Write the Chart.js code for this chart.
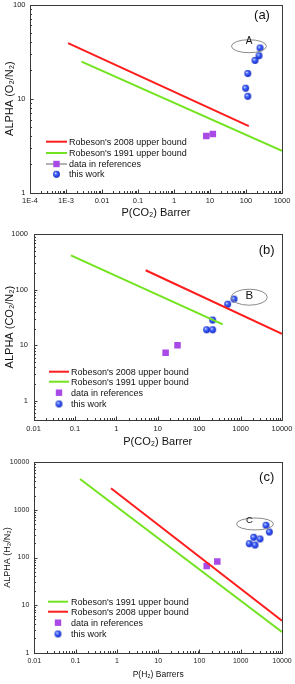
<!DOCTYPE html>
<html><head><meta charset="utf-8">
<script src="https://cdn.jsdelivr.net/npm/chart.js@4.4.1/dist/chart.umd.min.js"></script>
<style>
html,body{margin:0;padding:0;background:#fff;}
#wrap{position:relative;width:295px;height:684px;overflow:hidden;background:#fff;}
canvas{position:absolute;left:0;}
</style></head><body>
<div id="wrap">
<canvas id="ca" width="295" height="228" style="top:0;width:295px;height:228px"></canvas>
<canvas id="cb" width="295" height="227" style="top:228px;width:295px;height:227px"></canvas>
<canvas id="cc" width="295" height="229" style="top:455px;width:295px;height:229px"></canvas>
</div>
<script>
// ---------- Panel (a): O2/N2 ----------
const aXTicks = [1e-4, 1e-3, 0.01, 0.1, 1, 10, 100, 1000];
const aXLabels = ['1E-4', '1E-3', '0.01', '0.1', '1', '10', '100', '1000'];
const aYTicks = [1, 10, 100];
const aYLabels = ['1', '10', '100'];
const aRob2008X = [1.14e-3, 120];
const aRob2008Y = [39, 5.1];
const aRob1991X = [2.7e-3, 1000];
const aRob1991Y = [24.8, 2.79];
const aRefX = [7.9, 12];
const aRefY = [4.0, 4.2];
const aWorkX = [245, 230, 178, 112, 98, 112];
const aWorkY = [34.6, 28.6, 25.5, 18.5, 12.9, 10.6];

// ---------- Panel (b): CO2/N2 ----------
const bXTicks = [0.01, 0.1, 1, 10, 100, 1000, 10000];
const bXLabels = ['0.01', '0.1', '1', '10', '100', '1000', '10000'];
const bYTicks = [1, 10, 100, 1000];
const bYLabels = ['1', '10', '100', '1000'];
const bRob2008X = [5.1, 10000];
const bRob2008Y = [225, 16];
const bRob1991X = [0.08, 370];
const bRob1991Y = [418, 23.8];
const bRefX = [15.5, 30];
const bRefY = [7.3, 10];
const bWorkX = [151, 212, 212, 488, 695];
const bWorkY = [19, 19, 28.5, 55, 68];

// ---------- Panel (c): H2/N2 ----------
const cXTicks = [0.01, 0.1, 1, 10, 100, 1000, 10000];
const cXLabels = ['0.01', '0.1', '1', '10', '100', '1000', '10000'];
const cYTicks = [1, 10, 100, 1000, 10000];
const cYLabels = ['1', '10', '100', '1000', '10000'];
const cRob1991X = [0.128, 10000];
const cRob1991Y = [4460, 2.72];
const cRob2008X = [0.72, 10000];
const cRob2008Y = [2840, 4.7];
const cRefX = [150, 271];
const cRefY = [66, 82];
const cWorkX = [4100, 4930, 2065, 2935, 1615, 2220];
const cWorkY = [475, 343, 266, 245, 195, 183];

const FONT = "'Liberation Sans', Arial, Helvetica, sans-serif";
const RED = '#ff1c1c', GREEN = '#72e31e', PURPLE = '#a94ae6', AXIS = '#3a3a3a';

function pts(xs, ys) { return xs.map((x, i) => ({x: x, y: ys[i]})); }

function sphere(r) {
  const c = document.createElement('canvas');
  const s = Math.ceil(r * 2) + 2;
  c.width = s; c.height = s;
  const g = c.getContext('2d');
  const cx = s / 2, cy = s / 2;
  const grad = g.createRadialGradient(cx - r * 0.35, cy - r * 0.4, r * 0.05, cx, cy, r);
  grad.addColorStop(0, '#ffffff');
  grad.addColorStop(0.3, '#5a7cff');
  grad.addColorStop(0.75, '#1f3de6');
  grad.addColorStop(1, '#1226b0');
  g.fillStyle = grad;
  g.beginPath(); g.arc(cx, cy, r, 0, Math.PI * 2); g.fill();
  return c;
}
const SPH = sphere(3.4);

function lineDs(label, xs, ys, color) {
  return {type: 'line', label: label, data: pts(xs, ys), borderColor: color, backgroundColor: color,
    borderWidth: 2, pointRadius: 0, showLine: true, fill: false, tension: 0, legendKind: 'line'};
}
function refDs(label, xs, ys, withLine) {
  return {type: 'scatter', label: label, data: pts(xs, ys), pointStyle: 'rect', pointRadius: 4.6,
    pointBackgroundColor: PURPLE, pointBorderColor: PURPLE, pointBorderWidth: 0,
    borderColor: '#9a9a9a', borderWidth: 1.5, showLine: !!withLine,
    legendKind: withLine ? 'lineSquare' : 'square'};
}
function workDs(label, xs, ys) {
  return {type: 'scatter', label: label, data: pts(xs, ys), pointStyle: SPH, pointRadius: 3.4,
    borderWidth: 0, legendKind: 'sphere'};
}

const deco = {
  id: 'deco',
  afterDatasetsDraw(chart, args, o) {
    const ctx = chart.ctx;
    const ca = chart.chartArea;
    const xs = chart.scales.x, ys = chart.scales.y;
    ctx.save();
    // box
    ctx.strokeStyle = AXIS; ctx.lineWidth = 1;
    ctx.strokeRect(Math.round(ca.left) + 0.5, Math.round(ca.top) + 0.5,
      Math.round(ca.right) - Math.round(ca.left), Math.round(ca.bottom) - Math.round(ca.top));
    // inward log ticks
    function logTicks(scale, horiz) {
      const lo = Math.floor(Math.log10(scale.min)), hi = Math.ceil(Math.log10(scale.max));
      ctx.beginPath();
      for (let d = lo; d <= hi; d++) {
        for (let m = 1; m <= 9; m++) {
          const v = m * Math.pow(10, d);
          if (v < scale.min * 0.999 || v > scale.max * 1.001) continue;
          const p = Math.round(scale.getPixelForValue(v)) + 0.5;
          const len = m === 1 ? 3.5 : 2;
          if (horiz) { const b = Math.round(ca.bottom); ctx.moveTo(p, b); ctx.lineTo(p, b - len); }
          else { const l = Math.round(ca.left); ctx.moveTo(l, p); ctx.lineTo(l + len, p); }
        }
      }
      ctx.stroke();
    }
    logTicks(xs, true); logTicks(ys, false);
    // annotation ellipse
    if (o.ellipse) {
      const e = o.ellipse;
      const cx = xs.getPixelForValue(e.x), cy = ys.getPixelForValue(e.y);
      ctx.strokeStyle = '#8a8a8a'; ctx.lineWidth = 1;
      ctx.beginPath(); ctx.ellipse(cx, cy, e.rx, e.ry, 0, 0, Math.PI * 2); ctx.stroke();
      ctx.fillStyle = '#111'; ctx.font = e.size + 'px ' + FONT;
      ctx.textAlign = 'center'; ctx.textBaseline = 'middle';
      ctx.fillText(e.text, cx + e.dx, cy + e.dy);
    }
    // panel label
    if (o.tag) {
      ctx.fillStyle = '#111'; ctx.font = o.tag.size + 'px ' + FONT;
      ctx.textAlign = 'center'; ctx.textBaseline = 'middle';
      ctx.fillText(o.tag.text, ca.right + o.tag.dx, ca.top + o.tag.dy);
    }
    // legend
    if (o.legend) {
      const L = o.legend;
      chart.data.datasets.forEach((ds, i) => {
        const y = L.y0 + L.dy[i];
        const x0 = L.x, x1 = L.x + L.len, xm = (x0 + x1) / 2;
        if (ds.legendKind === 'line' || ds.legendKind === 'lineSquare') {
          ctx.strokeStyle = ds.borderColor; ctx.lineWidth = ds.legendKind === 'line' ? 2 : 1.5;
          ctx.beginPath(); ctx.moveTo(x0, y); ctx.lineTo(x1, y); ctx.stroke();
        }
        if (ds.legendKind === 'square' || ds.legendKind === 'lineSquare') {
          ctx.fillStyle = PURPLE; ctx.fillRect(xm - 3.2, y - 3.2, 6.4, 6.4);
        }
        if (ds.legendKind === 'sphere') {
          ctx.drawImage(SPH, xm - SPH.width / 2, y - SPH.height / 2);
        }
        ctx.fillStyle = '#111'; ctx.font = L.size + 'px ' + FONT;
        ctx.textAlign = 'left'; ctx.textBaseline = 'middle';
        ctx.fillText(ds.label, L.textX, y + 0.5);
      });
    }
    ctx.restore();
  }
};

function makeChart(id, p) {
  return new Chart(document.getElementById(id), {
    type: 'scatter',
    data: {datasets: p.datasets},
    options: {
      responsive: false, animation: false, devicePixelRatio: 1,
      layout: {padding: p.pad},
      plugins: {legend: {display: false}, tooltip: {enabled: false}, deco: p.deco},
      scales: {
        x: {
          type: 'logarithmic', position: 'bottom', min: p.xmin, max: p.xmax,
          afterBuildTicks: s => { s.ticks = p.xTicks.map(v => ({value: v})); },
          afterFit: s => { s.height = p.xH; s.paddingLeft = 0; s.paddingRight = 0; s.paddingTop = 0; s.paddingBottom = 0; },
          grid: {display: false, drawTicks: false}, border: {display: false},
          ticks: {autoSkip: false, maxRotation: 0, minRotation: 0, padding: p.xPad, color: '#1a1a1a',
            font: {family: FONT, size: p.tickSize}, callback: (v, i) => p.xLabels[i]},
          title: {display: true, text: p.xTitle, color: '#111', font: {family: FONT, size: p.xTitleSize},
            padding: {top: 0, bottom: p.xTitlePad}}
        },
        y: {
          type: 'logarithmic', position: 'left', min: p.ymin, max: p.ymax,
          afterBuildTicks: s => { s.ticks = p.yTicks.map(v => ({value: v})); },
          afterFit: s => { s.width = p.yW; s.paddingLeft = 0; s.paddingRight = 0; s.paddingTop = 0; s.paddingBottom = 0; },
          grid: {display: false, drawTicks: false}, border: {display: false},
          ticks: {autoSkip: false, padding: p.yPad, color: '#1a1a1a',
            font: {family: FONT, size: p.tickSize}, callback: (v, i) => p.yLabels[i]},
          title: {display: true, text: p.yTitle, color: '#111', font: {family: FONT, size: p.yTitleSize},
            padding: {top: p.yTitlePad, bottom: 0}}
        }
      }
    },
    plugins: [deco]
  });
}

makeChart('ca', {
  datasets: [
    lineDs("Robeson's 2008 upper bound", aRob2008X, aRob2008Y, RED),
    lineDs("Robeson's 1991 upper bound", aRob1991X, aRob1991Y, GREEN),
    refDs('data in references', aRefX, aRefY, true),
    workDs('this work', aWorkX, aWorkY)
  ],
  xmin: 1e-4, xmax: 1000, ymin: 1, ymax: 100,
  xTicks: aXTicks, xLabels: aXLabels, yTicks: aYTicks, yLabels: aYLabels,
  pad: {top: 4.3, right: 13, bottom: 0, left: 0}, yW: 30, xH: 35.3,
  xPad: 4, yPad: 4.5, tickSize: 7.5,
  xTitle: 'P(CO\u2082) Barrer', xTitleSize: 11, xTitlePad: 8.4,
  yTitle: 'ALPHA (O\u2082/N\u2082)', yTitleSize: 11, yTitlePad: 3.4,
  deco: {
    ellipse: {x: 121, y: 36.1, rx: 17.5, ry: 6.5, text: 'A', dx: 0, dy: -5, size: 10},
    tag: {text: '(a)', dx: -20, dy: 10.7, size: 13},
    legend: {x: 46, len: 21, textX: 69, y0: 141.7, dy: [0, 11.3, 22.3, 32.6], size: 9}
  }
});

makeChart('cb', {
  datasets: [
    lineDs("Robeson's 2008 upper bound", bRob2008X, bRob2008Y, RED),
    lineDs("Robeson's 1991 upper bound", bRob1991X, bRob1991Y, GREEN),
    refDs('data in references', bRefX, bRefY, false),
    workDs('this work', bWorkX, bWorkY)
  ],
  xmin: 0.01, xmax: 10000, ymin: 0.45, ymax: 1000,
  xTicks: bXTicks, xLabels: bXLabels, yTicks: bYTicks, yLabels: bYLabels,
  pad: {top: 6.3, right: 13, bottom: 0, left: 0}, yW: 33.5, xH: 35,
  xPad: 4, yPad: 5.5, tickSize: 7.5,
  xTitle: 'P(CO\u2082) Barrer', xTitleSize: 11, xTitlePad: 6.7,
  yTitle: 'ALPHA (CO\u2082/N\u2082)', yTitleSize: 11, yTitlePad: 3.4,
  deco: {
    ellipse: {x: 1622, y: 73.5, rx: 18, ry: 8, text: 'B', dx: 0, dy: -1.6, size: 11.5},
    tag: {text: '(b)', dx: -15.3, dy: 15.7, size: 13},
    legend: {x: 49, len: 20, textX: 71, y0: 143.7, dy: [0, 10, 21, 32.3], size: 9}
  }
});

makeChart('cc', {
  datasets: [
    lineDs("Robeson's 1991 upper bound", cRob1991X, cRob1991Y, GREEN),
    lineDs("Robeson's 2008 upper bound", cRob2008X, cRob2008Y, RED),
    refDs('data in references', cRefX, cRefY, false),
    workDs('this work', cWorkX, cWorkY)
  ],
  xmin: 0.01, xmax: 10000, ymin: 1, ymax: 10000,
  xTicks: cXTicks, xLabels: cXLabels, yTicks: cYTicks, yLabels: cYLabels,
  pad: {top: 7.3, right: 13, bottom: 0, left: 0}, yW: 34.3, xH: 31.3,
  xPad: 4, yPad: 5, tickSize: 7,
  xTitle: 'P(H\u2082) Barrers', xTitleSize: 8.5, xTitlePad: 3.9,
  yTitle: 'ALPHA (H\u2082/N\u2082)', yTitleSize: 9, yTitlePad: 1.9,
  deco: {
    ellipse: {x: 2220, y: 506, rx: 18.5, ry: 6, text: 'C', dx: -5.7, dy: -3.3, size: 9.5},
    tag: {text: '(c)', dx: -15.3, dy: 15.4, size: 13},
    legend: {x: 48, len: 20, textX: 71, y0: 146.7, dy: [0, 10, 21, 32.3], size: 9}
  }
});
</script>
</body></html>
